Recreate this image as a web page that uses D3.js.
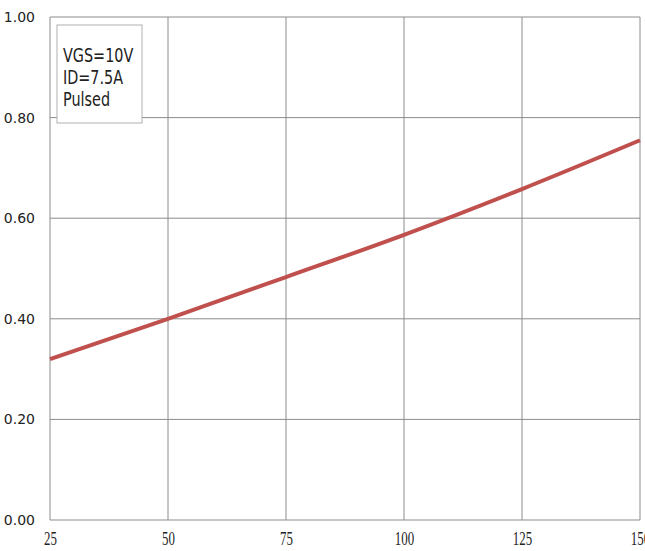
<!DOCTYPE html>
<html>
<head>
<meta charset="utf-8">
<script src="https://cdn.jsdelivr.net/npm/d3@7"></script>
<style>
  body { margin: 0; background: #fff; }
  text { font-family: "DejaVu Sans", sans-serif; }
</style>
</head>
<body>
<svg width="645" height="551"></svg>
<script>
const svg = d3.select('svg');

// temperature (°C) vs normalized on-resistance
const temps = [25, 50, 75, 100, 125, 150];
const values = [0.32, 0.40, 0.483, 0.567, 0.658, 0.755];
const xTicks = [25, 50, 75, 100, 125, 150];
const yTicks = [0, 0.2, 0.4, 0.6, 0.8, 1.0];
const legendLines = ['VGS=10V', 'ID=7.5A', 'Pulsed'];

const margin = { top: 17, left: 50, right: 5, bottom: 31 };
const width = +svg.attr('width');
const height = +svg.attr('height');
const innerWidth = width - margin.left - margin.right;
const innerHeight = height - margin.top - margin.bottom;

const x = d3.scaleLinear().domain([25, 150]).range([0, innerWidth]);
const y = d3.scaleLinear().domain([0, 1]).range([innerHeight, 0]);

const g = svg.append('g')
    .attr('transform', `translate(${margin.left},${margin.top})`);

// grid
g.selectAll('.vgrid').data(xTicks).enter().append('line')
    .attr('x1', d => x(d)).attr('x2', d => x(d))
    .attr('y1', 0).attr('y2', innerHeight)
    .attr('stroke', '#8c8c8c').attr('stroke-width', 1);

g.selectAll('.hgrid').data(yTicks).enter().append('line')
    .attr('x1', 0).attr('x2', innerWidth)
    .attr('y1', d => y(d)).attr('y2', d => y(d))
    .attr('stroke', '#8c8c8c').attr('stroke-width', 1);

// x axis labels: tall, squeezed serif
const xAxis = d3.axisBottom(x).tickValues(xTicks).tickSize(0);
const xAxisG = g.append('g').attr('transform', `translate(0,${innerHeight})`).call(xAxis);
xAxisG.select('.domain').remove();
xAxisG.selectAll('text')
    .attr('y', 25).attr('dy', 0)
    .attr('font-size', 19).attr('fill', '#222')
    .style('font-family', '"Liberation Serif", "DejaVu Serif", serif')
    .attr('transform', 'scale(0.68,1)');

// y axis labels
const yAxis = d3.axisLeft(y).tickValues(yTicks).tickSize(0).tickPadding(15)
    .tickFormat(d3.format('.2f'));
const yAxisG = g.append('g').call(yAxis);
yAxisG.select('.domain').remove();
yAxisG.selectAll('text').attr('font-size', 14).attr('fill', '#222');

// curve
const line = d3.line()
    .x((d, i) => x(temps[i]))
    .y(d => y(d))
    .curve(d3.curveMonotoneX);

g.append('path')
    .datum(values)
    .attr('d', line)
    .attr('fill', 'none')
    .attr('stroke', '#c0504d')
    .attr('stroke-width', 4);

// legend box
const lg = svg.append('g').attr('transform', 'translate(57,25)');
lg.append('rect')
    .attr('width', 85).attr('height', 98)
    .attr('fill', '#fff').attr('stroke', '#b0b0b0').attr('stroke-width', 1);
lg.selectAll('text').data(legendLines).enter().append('text')
    .attr('transform', (d, i) => `translate(6,${37 + i * 22}) scale(0.72,1)`)
    .attr('font-size', 20)
    .attr('fill', '#222')
    .text(d => d);
</script>
</body>
</html>
